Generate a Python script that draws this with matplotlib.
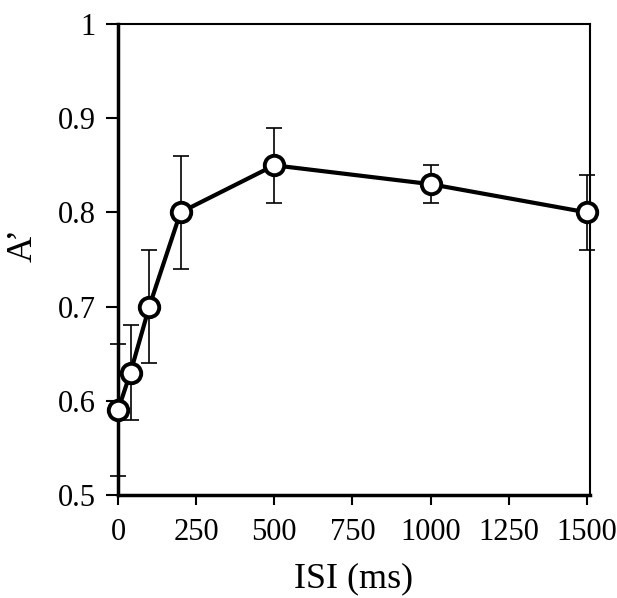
import matplotlib
matplotlib.use("Agg")
import matplotlib.pyplot as plt

isi = [0, 40, 100, 200, 500, 1000, 1500]
a_prime = [0.59, 0.63, 0.70, 0.80, 0.85, 0.83, 0.80]
err_low = [0.52, 0.58, 0.64, 0.74, 0.81, 0.81, 0.76]
err_high = [0.66, 0.68, 0.76, 0.86, 0.89, 0.85, 0.84]
xticks = [0, 250, 500, 750, 1000, 1250, 1500]
yticks = [0.5, 0.6, 0.7, 0.8, 0.9, 1.0]
ytick_labels = ["0.5", "0.6", "0.7", "0.8", "0.9", "1"]

plt.rcParams['font.family'] = ['Liberation Serif', 'DejaVu Serif']

fig = plt.figure(figsize=(6.17, 5.98), dpi=100)
ax = fig.add_axes([118/617, 1 - 495/598, (590-118)/617, (495-24)/598])

yerr = [[a - l for a, l in zip(a_prime, err_low)], [h - a for a, h in zip(a_prime, err_high)]]
ax.errorbar(isi, a_prime, yerr=yerr, fmt='none', ecolor='black', elinewidth=1.2,
            capsize=6, capthick=1.2, clip_on=False, zorder=2)
ax.plot(isi, a_prime, '-', color='black', lw=3, zorder=3, clip_on=False)
ax.plot(isi, a_prime, 'o', markersize=14, markerfacecolor='white', markeredgecolor='black',
        markeredgewidth=2.8, zorder=4, clip_on=False)

ax.set_xlim(0, 1510)
ax.set_ylim(0.5, 1.0)
ax.set_xticks(xticks)
ax.set_yticks(yticks)
ax.set_yticklabels(ytick_labels)
ax.tick_params(axis='x', direction='out', length=7.5, width=1.5, labelsize=22, pad=9)
ax.tick_params(axis='y', direction='out', length=9, width=1.5, labelsize=22, pad=7)
ax.spines['left'].set_linewidth(2.5)
ax.spines['bottom'].set_linewidth(2.5)
ax.spines['top'].set_linewidth(1.5)
ax.spines['right'].set_linewidth(1.5)
ax.set_xlabel('ISI (ms)', fontsize=26, labelpad=11)
ax.set_ylabel('A\u2019', fontsize=26, labelpad=14)
ax.yaxis.set_label_coords(-0.165, 0.53)

fig.savefig('out.png', dpi=100)
